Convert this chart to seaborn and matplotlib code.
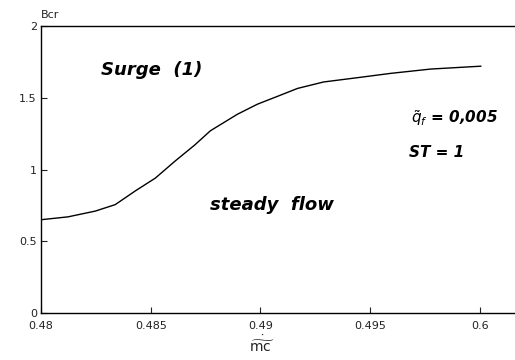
import matplotlib
matplotlib.use("Agg")
import matplotlib.pyplot as plt
import seaborn as sns
import pandas as pd

mc = [0.48000, 0.48123, 0.48247, 0.48338, 0.48429, 0.48521, 0.48612, 0.48700,
      0.48772, 0.48895, 0.48986, 0.49078, 0.49169, 0.49288, 0.49443, 0.49594,
      0.49776, 0.50005]
bcr = [0.65, 0.67, 0.71, 0.755, 0.85, 0.94, 1.06, 1.17,
       1.27, 1.385, 1.455, 1.51, 1.565, 1.61, 1.64, 1.67,
       1.70, 1.72]
xticks = [0.48, 0.485, 0.49, 0.495, 0.50]
xticklabels = ["0.48", "0.485", "0.49", "0.495", "0.6"]
yticks = [0, 0.5, 1, 1.5, 2]
yticklabels = ["0", "0.5", "1", "1.5", "2"]

df = pd.DataFrame({"mc": mc, "Bcr": bcr})

sns.set_style("white")
plt.rcParams['font.family'] = ['DejaVu Sans']

fig = plt.figure(figsize=(5.15, 3.6), dpi=100)
ax = fig.add_axes([41/515, 1 - 313/360, 1 - 41/515, (313 - 26)/360])
sns.lineplot(data=df, x="mc", y="Bcr", ax=ax, color="black", linewidth=1.0)

ax.set_xlim(0.48, 0.5016)
ax.set_ylim(0, 2)
ax.set_xticks(xticks)
ax.set_xticklabels(xticklabels)
ax.set_yticks(yticks)
ax.set_yticklabels(yticklabels)
ax.tick_params(direction="in", length=4, width=0.8, labelsize=8, colors="#222222",
               bottom=True, left=True)
ax.tick_params(axis="x", pad=6)
ax.tick_params(axis="y", pad=3)
for s in ["left", "bottom", "top"]:
    ax.spines[s].set_color("black")
    ax.spines[s].set_linewidth(1.0)
ax.spines["right"].set_visible(False)
ax.set_xlabel("")
ax.set_ylabel("")

fig.text(41/515, 1 - 15/360, "Bcr", fontsize=8, ha="left", va="center", color="#222222")
fig.text(262/515, 1 - 345/360, r"$\dot{\widetilde{\mathrm{mc}}}$", fontsize=10,
         ha="center", va="center", color="#222222")

ax.text(0.48275, 1.69, "Surge  (1)", fontsize=13, fontstyle="italic", fontweight="semibold",
        ha="left", va="center", color="black")
ax.text(0.48770, 0.75, "steady  flow", fontsize=13, fontstyle="italic", fontweight="semibold",
        ha="left", va="center", color="black")
ax.text(0.49685, 1.36, r"$\tilde{\mathit{q}}_{\mathit{f}}$ = 0,005", fontsize=11,
        fontstyle="italic", fontweight="bold", ha="left", va="center", color="black")
ax.text(0.49675, 1.12, "ST = 1", fontsize=11, fontstyle="italic", fontweight="bold",
        ha="left", va="center", color="black")

fig.savefig("out.png", dpi=100)
